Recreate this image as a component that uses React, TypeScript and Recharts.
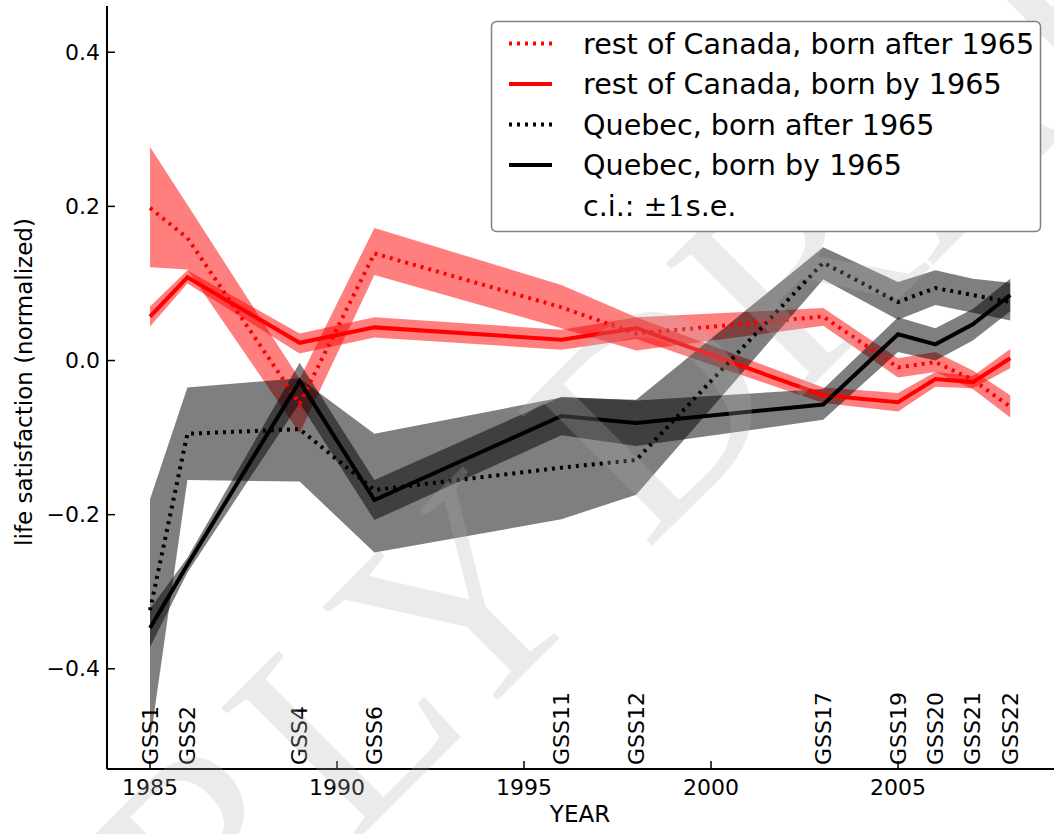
import React from 'react';
import { ComposedChart, Area, Line, XAxis, YAxis } from 'recharts';

// survey years and labels
const years = [1985, 1986, 1989, 1991, 1996, 1998, 2003, 2005, 2006, 2007, 2008];
const surveys = ['GSS1', 'GSS2', 'GSS4', 'GSS6', 'GSS11', 'GSS12', 'GSS17', 'GSS19', 'GSS20', 'GSS21', 'GSS22'];
const yearTicks = [1985, 1990, 1995, 2000, 2005];
const yTicks = [-0.4, -0.2, 0, 0.2, 0.4];

// rest of Canada, born after 1965
const rocAfter = [0.198, 0.159, -0.056, 0.139, 0.069, 0.035, 0.057, -0.009, -0.002, -0.025, -0.060];
const rocAfterLo = [0.121, 0.118, -0.094, 0.111, 0.042, 0.013, 0.045, -0.022, -0.015, -0.037, -0.074];
const rocAfterHi = [0.277, 0.202, -0.024, 0.172, 0.098, 0.056, 0.068, 0.003, 0.011, -0.013, -0.045];

// rest of Canada, born by 1965
const rocBy = [0.057, 0.108, 0.023, 0.043, 0.027, 0.042, -0.045, -0.054, -0.024, -0.028, 0.003];
const rocByLo = [0.044, 0.100, 0.009, 0.030, 0.014, 0.028, -0.055, -0.066, -0.034, -0.036, -0.010];
const rocByHi = [0.070, 0.117, 0.035, 0.056, 0.040, 0.056, -0.035, -0.042, -0.015, -0.020, 0.015];

// Quebec, born after 1965
const qcAfter = [-0.324, -0.095, -0.089, -0.168, -0.139, -0.129, 0.127, 0.076, 0.094, 0.085, 0.076];
const qcAfterLo = [-0.495, -0.155, -0.157, -0.249, -0.206, -0.174, 0.105, 0.053, 0.072, 0.062, 0.052];
const qcAfterHi = [-0.180, -0.035, -0.023, -0.095, -0.048, -0.051, 0.147, 0.102, 0.117, 0.106, 0.101];

// Quebec, born by 1965
const qcBy = [-0.347, -0.265, -0.027, -0.181, -0.072, -0.081, -0.057, 0.034, 0.021, 0.047, 0.085];
const qcByLo = [-0.372, -0.275, -0.055, -0.207, -0.097, -0.111, -0.077, 0.011, 0.000, 0.026, 0.064];
const qcByHi = [-0.322, -0.256, -0.003, -0.155, -0.047, -0.052, -0.037, 0.056, 0.042, 0.067, 0.106];

const rows = years.map((yr, i) => ({
  year: yr,
  rocAfter: rocAfter[i],
  rocAfterBand: [rocAfterLo[i], rocAfterHi[i]],
  rocBy: rocBy[i],
  rocByBand: [rocByLo[i], rocByHi[i]],
  qcAfter: qcAfter[i],
  qcAfterBand: [qcAfterLo[i], qcAfterHi[i]],
  qcBy: qcBy[i],
  qcByBand: [qcByLo[i], qcByHi[i]],
}));

const font = '"DejaVu Sans", sans-serif';
const xDomain = [1983.85, 2009.17];
const yDomain = [-0.53, 0.46];
const bottomTicks = Array.from(new Set([...yearTicks, ...years])).sort((a, b) => a - b);

const fmtY = (v: number) => (v === 0 ? '0.0' : (v < 0 ? '\u2212' : '') + Math.abs(v).toFixed(1));

const BottomTick = (props: any) => {
  const { x, y, payload } = props;
  const v = payload.value;
  const si = years.indexOf(v);
  return (
    <g>
      {yearTicks.includes(v) && (
        <>
          <line x1={x} y1={y} x2={x} y2={y - 8} stroke="#000" strokeWidth={1.5} />
          <text x={x} y={y + 26} textAnchor="middle" fontSize={22} fontFamily={font} fill="#000">
            {v}
          </text>
        </>
      )}
      {si >= 0 && (
        <text
          x={x}
          y={y - 4}
          transform={`rotate(-90 ${x} ${y - 4})`}
          textAnchor="start"
          dominantBaseline="central"
          fontSize={22}
          fontFamily={font}
          fill="#000"
        >
          {surveys[si]}
        </text>
      )}
    </g>
  );
};

const TopTick = (props: any) => {
  const { x, y } = props;
  return <line x1={x} y1={y} x2={x} y2={y + 8} stroke="#000" strokeWidth={1.5} />;
};

const LeftTick = (props: any) => {
  const { x, y, payload } = props;
  return (
    <g>
      <line x1={x} y1={y} x2={x + 8} y2={y} stroke="#000" strokeWidth={1.5} />
      <text x={x - 7} y={y} textAnchor="end" dominantBaseline="central" fontSize={22} fontFamily={font} fill="#000">
        {fmtY(payload.value)}
      </text>
    </g>
  );
};

const RightTick = (props: any) => {
  const { x, y } = props;
  return <line x1={x} y1={y} x2={x - 8} y2={y} stroke="#000" strokeWidth={1.5} />;
};

const legendItems = [
  { label: 'rest of Canada, born after 1965', color: '#ff0000', dash: '3 5' },
  { label: 'rest of Canada, born by 1965', color: '#ff0000', dash: undefined },
  { label: 'Quebec, born after 1965', color: '#000000', dash: '3 5' },
  { label: 'Quebec, born by 1965', color: '#000000', dash: undefined },
];

const LegendBox = () => (
  <svg width={1054} height={834} style={{ position: 'absolute', left: 0, top: 0, pointerEvents: 'none' }}>
    <rect x={491.5} y={21.5} width={549} height={210} rx={5} fill="#fff" stroke="#808080" strokeWidth={1.5} />
    {legendItems.map((it, i) => {
      const cy = 43.5 + i * 40.5;
      return (
        <g key={it.label}>
          <line x1={509} y1={cy} x2={552} y2={cy} stroke={it.color} strokeWidth={4} strokeDasharray={it.dash} />
          <text x={583} y={cy} dominantBaseline="central" fontSize={28.6} fontFamily={font} fill="#000">
            {it.label}
          </text>
        </g>
      );
    })}
    <text x={583} y={43.5 + 4 * 40.5} dominantBaseline="central" fontSize={28.6} fontFamily={font} fill="#000">
      c.i.:{' '}
      <tspan fontFamily='"DejaVu Serif", serif'>±1</tspan>
      s.e.
    </text>
  </svg>
);

const Watermark = () => (
  <svg width={1054} height={834} style={{ position: 'absolute', left: 0, top: 0, pointerEvents: 'none' }}>
    <text
      x={560}
      y={500}
      transform="rotate(-45 560 500)"
      textAnchor="middle"
      dominantBaseline="central"
      fontSize={290}
      fontFamily='"Liberation Serif", serif'
      fill="#b0b0b0"
      fillOpacity={0.25}
    >
      EARLY DRAFT
    </text>
  </svg>
);

export default function App() {
  return (
    <div style={{ position: 'absolute', left: 0, top: 0, width: 1054, height: 834, background: '#fff', overflow: 'hidden' }}>
      <ComposedChart width={1054} height={834} data={rows} margin={{ top: 6, right: 0, bottom: 0, left: 0 }}>
        <XAxis
          xAxisId="b"
          dataKey="year"
          type="number"
          domain={xDomain}
          allowDataOverflow
          ticks={bottomTicks}
          interval={0}
          height={65}
          tickSize={0}
          tickMargin={0}
          tickLine={false}
          tick={<BottomTick />}
          axisLine={{ stroke: '#000', strokeWidth: 2 }}
        />
        <XAxis
          xAxisId="t"
          orientation="top"
          type="number"
          domain={xDomain}
          allowDataOverflow
          ticks={yearTicks}
          interval={0}
          height={0}
          tickSize={0}
          tickMargin={0}
          tickLine={false}
          tick={<TopTick />}
          axisLine={{ stroke: '#000', strokeWidth: 2 }}
        />
        <YAxis
          yAxisId="l"
          type="number"
          domain={yDomain}
          allowDataOverflow
          ticks={yTicks}
          interval={0}
          width={107}
          tickSize={0}
          tickMargin={0}
          tickLine={false}
          tick={<LeftTick />}
          axisLine={{ stroke: '#000', strokeWidth: 2 }}
        />
        <YAxis
          yAxisId="r"
          orientation="right"
          type="number"
          domain={yDomain}
          allowDataOverflow
          ticks={yTicks}
          interval={0}
          width={0}
          tickSize={0}
          tickMargin={0}
          tickLine={false}
          tick={<RightTick />}
          axisLine={{ stroke: '#000', strokeWidth: 2 }}
        />

        <Area xAxisId="b" yAxisId="l" type="linear" dataKey="rocAfterBand" stroke="none" fill="#ff0000" fillOpacity={0.5} isAnimationActive={false} />
        <Area xAxisId="b" yAxisId="l" type="linear" dataKey="rocByBand" stroke="none" fill="#ff0000" fillOpacity={0.5} isAnimationActive={false} />
        <Area xAxisId="b" yAxisId="l" type="linear" dataKey="qcAfterBand" stroke="none" fill="#000000" fillOpacity={0.5} isAnimationActive={false} />
        <Area xAxisId="b" yAxisId="l" type="linear" dataKey="qcByBand" stroke="none" fill="#000000" fillOpacity={0.5} isAnimationActive={false} />

        <Line xAxisId="b" yAxisId="l" type="linear" dataKey="rocAfter" stroke="#ff0000" strokeWidth={4} strokeDasharray="3 5" dot={false} isAnimationActive={false} />
        <Line xAxisId="b" yAxisId="l" type="linear" dataKey="rocBy" stroke="#ff0000" strokeWidth={4} dot={false} isAnimationActive={false} />
        <Line xAxisId="b" yAxisId="l" type="linear" dataKey="qcAfter" stroke="#000000" strokeWidth={4} strokeDasharray="3 5" dot={false} isAnimationActive={false} />
        <Line xAxisId="b" yAxisId="l" type="linear" dataKey="qcBy" stroke="#000000" strokeWidth={4} dot={false} isAnimationActive={false} />
      </ComposedChart>
      <Watermark />
      <LegendBox />
      <div
        style={{
          position: 'absolute',
          left: 24,
          top: 382,
          transform: 'translate(-50%, -50%) rotate(-90deg)',
          fontFamily: font,
          fontSize: 23,
          whiteSpace: 'nowrap',
          lineHeight: 1,
        }}
      >
        life satisfaction (normalized)
      </div>
      <div
        style={{
          position: 'absolute',
          left: 580,
          top: 814,
          transform: 'translate(-50%, -50%)',
          fontFamily: font,
          fontSize: 23,
          whiteSpace: 'nowrap',
          lineHeight: 1,
        }}
      >
        YEAR
      </div>
    </div>
  );
}
